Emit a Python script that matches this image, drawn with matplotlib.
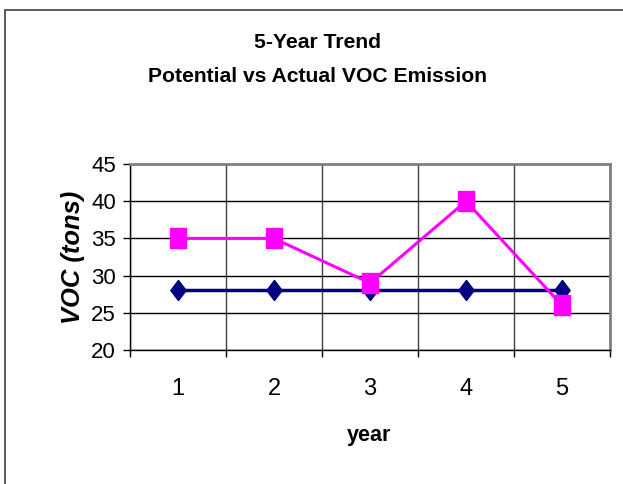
import matplotlib.pyplot as plt
from matplotlib.patches import Rectangle

# dane
years = [1, 2, 3, 4, 5]
potential = [28, 28, 28, 28, 28]
actual = [35, 35, 29, 40, 26]
y_ticks = [20, 25, 30, 35, 40, 45]

plt.rcParams['font.family'] = ['Liberation Sans', 'DejaVu Sans']

fig = plt.figure(figsize=(6.23, 4.84), dpi=100)
ax = fig.add_axes([130/623, 1-350/484, 480/623, 186/484])

# ramka wykresu
fig.patches.append(Rectangle((5/623, -0.1), 1.2, 1 - 10/484 + 0.1,
                             transform=fig.transFigure, fill=False,
                             edgecolor='#404040', linewidth=1.2))

# markery rozciagniete w pionie jak w oryginale
diamond = [(0, -1), (0.76, 0), (0, 1), (-0.76, 0), (0, -1)]
square = [(-0.8, -1), (0.8, -1), (0.8, 1), (-0.8, 1), (-0.8, -1)]

ax.plot(years, potential, color='#000080', lw=2.5, marker=diamond,
        markersize=14.5, zorder=3)
ax.plot(years, actual, color='#FF00FF', lw=2.2, marker=square,
        markersize=13.7, zorder=4)

ax.set_xlim(0.5, 5.5)
ax.set_ylim(20, 45)
ax.set_yticks(y_ticks)
ax.set_xticks(years)
ax.set_xticks([0.5, 1.5, 2.5, 3.5, 4.5, 5.5], minor=True)
ax.tick_params(axis='x', which='major', length=0, pad=20, labelsize=17)
ax.tick_params(axis='x', which='minor', length=5, width=1, color='black')
ax.tick_params(axis='y', length=5, width=1, pad=5, labelsize=16)

ax.grid(axis='y', color='black', lw=1)
ax.grid(axis='x', which='minor', color='#404040', lw=1)
ax.set_axisbelow(True)

for s in ['top', 'right']:
    ax.spines[s].set_color('#808080')
    ax.spines[s].set_linewidth(2)
for s in ['left', 'bottom']:
    ax.spines[s].set_color('black')
    ax.spines[s].set_linewidth(1)

fig.text(369/623, 1-436/484, 'year', ha='center', va='center',
         fontsize=15.5, fontweight='bold')
fig.text(73/623, 1-257/484, 'VOC (tons)', ha='center', va='center',
         rotation=90, fontsize=18.4, fontweight='bold', style='italic')

fig.text(318/623, 1-42/484, '5-Year Trend', ha='center', va='center',
         fontsize=15.2, fontweight='bold')
fig.text(318/623, 1-77/484, 'Potential vs Actual VOC Emission', ha='center',
         va='center', fontsize=15.2, fontweight='bold')

plt.savefig('out.png', dpi=100)
